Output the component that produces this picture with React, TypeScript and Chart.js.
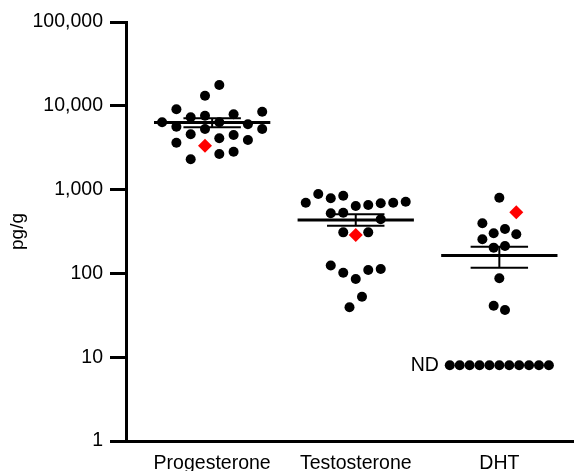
import React, { useEffect, useRef } from "react";
import { Chart, registerables } from "chart.js";

Chart.register(...registerables);

// ---- data ----
const categories = ["Progesterone", "Testosterone", "DHT"];
const yTickValues = [1, 10, 100, 1000, 10000, 100000];

const progesteroneValues = [17700, 13200, 9080, 8500, 7920, 7290, 7620, 6360, 6360, 6010, 5630, 5290, 5290, 4570, 4490, 4090, 3630, 3910, 2660, 2830, 2300];
const progesteroneSlots = [0.5, -0.5, -2.5, 3.5, 1.5, -1.5, -0.5, -3.5, 0.5, 2.5, -2.5, -0.5, 3.5, -1.5, 1.5, 0.5, -2.5, 2.5, 0.5, 1.5, -1.5];

const testosteroneValues = [698, 887, 787, 846, 637, 655, 687, 698, 717, 521, 530, 442, 309, 309, 124, 102, 85.7, 110, 113, 52.7, 39.4];
const testosteroneSlots = [-4, -3, -2, -1, 0, 1, 2, 3, 4, -2, -1, 2, -1, 1, -2, -1, 0, 1, 2, 0.5, -0.5];

const dhtValues = [800, 396, 301, 339, 293, 255, 203, 212, 87.4, 41.2, 36.6];
const dhtSlots = [0, -1.5, -0.5, 0.5, 1.5, -1.5, -0.5, 0.5, 0, -0.5, 0.5];

const dhtNDValues = [8, 8, 8, 8, 8, 8, 8, 8, 8, 8, 8];
const dhtNDSlots = [-5, -4, -3, -2, -1, 0, 1, 2, 3, 4, 5];
const ndLabel = "ND";

const highlightValues = [3340, 287, 536];
const highlightSlots = [-0.5, 0, 1.5];

const means = [6330, 434, 163];
const semUpper = [7100, 507, 208];
const semLower = [5540, 371, 117];

// ---- styles ----
const FONT = "'Liberation Sans', Arial, Helvetica, sans-serif";
const slotWidths = [0.0996, 0.087, 0.0787];
const ndSlotWidth = 0.069;
const meanHalf = 0.405;
const capHalf = 0.2;

const groupValues = [progesteroneValues, testosteroneValues, dhtValues];
const groupSlots = [progesteroneSlots, testosteroneSlots, dhtSlots];

function lineDs(points: { x: number; y: number }[], width: number) {
  return {
    data: points,
    showLine: true,
    borderColor: "#000",
    borderWidth: width,
    pointRadius: 0,
    fill: false,
    clip: false as any,
  };
}

export default function App() {
  const ref = useRef<HTMLCanvasElement | null>(null);

  useEffect(() => {
    document.body.style.margin = "0";
    const canvas = ref.current;
    if (!canvas) return;

    const datasets: any[] = [];

    // red highlighted points (on top)
    datasets.push({
      data: highlightValues.map((v, i) => ({ x: i + highlightSlots[i] * slotWidths[i], y: v })),
      pointStyle: "rectRot",
      pointRadius: 7,
      pointBackgroundColor: "#ff0000",
      pointBorderWidth: 0,
      showLine: false,
    });

    groupValues.forEach((vals, i) => {
      datasets.push({
        data: vals.map((v, j) => ({ x: i + groupSlots[i][j] * slotWidths[i], y: v })),
        pointRadius: 5,
        pointBackgroundColor: "#000",
        pointBorderWidth: 0,
        showLine: false,
      });
    });

    datasets.push({
      data: dhtNDValues.map((v, j) => ({ x: 2 + dhtNDSlots[j] * ndSlotWidth, y: v })),
      pointRadius: 5,
      pointBackgroundColor: "#000",
      pointBorderWidth: 0,
      showLine: false,
    });

    means.forEach((m, i) => {
      datasets.push(lineDs([{ x: i - meanHalf, y: m }, { x: i + meanHalf, y: m }], 3));
      datasets.push(lineDs([{ x: i - capHalf, y: semUpper[i] }, { x: i + capHalf, y: semUpper[i] }], 2));
      datasets.push(lineDs([{ x: i - capHalf, y: semLower[i] }, { x: i + capHalf, y: semLower[i] }], 2));
      datasets.push(lineDs([{ x: i, y: semLower[i] }, { x: i, y: semUpper[i] }], 2));
    });

    const ndPlugin = {
      id: "ndLabel",
      afterDatasetsDraw(chart: any) {
        const xs = chart.scales.x;
        const ys = chart.scales.y;
        const ctx = chart.ctx;
        const firstX = xs.getPixelForValue(2 + dhtNDSlots[0] * ndSlotWidth);
        const y = ys.getPixelForValue(dhtNDValues[0]);
        ctx.save();
        ctx.fillStyle = "#000";
        ctx.font = `19.5px ${FONT}`;
        ctx.textAlign = "right";
        ctx.textBaseline = "middle";
        ctx.fillText(ndLabel, firstX - 11, y);
        ctx.restore();
      },
    };

    const chart = new Chart(canvas, {
      type: "scatter",
      data: { datasets },
      plugins: [ndPlugin],
      options: {
        responsive: false,
        animation: false,
        devicePixelRatio: 1,
        layout: { autoPadding: false, padding: { top: 22, right: 0, left: 0, bottom: 0 } },
        plugins: { legend: { display: false }, tooltip: { enabled: false } },
        scales: {
          x: {
            type: "linear",
            min: -0.6,
            max: 2.52,
            afterBuildTicks: (scale: any) => {
              scale.ticks = categories.map((_, i) => ({ value: i }));
            },
            afterFit: (scale: any) => {
              scale.height = 30;
              scale.paddingLeft = 0;
              scale.paddingRight = 0;
            },
            ticks: {
              autoSkip: false,
              maxRotation: 0,
              padding: 11,
              color: "#000",
              font: { family: FONT, size: 19.5 },
              callback: (v: any) => categories[v as number] ?? "",
            },
            grid: { display: false, drawTicks: false },
            border: { display: true, color: "#000", width: 3 },
          },
          y: {
            type: "logarithmic",
            min: 1,
            max: 100000,
            afterBuildTicks: (scale: any) => {
              scale.ticks = yTickValues.map((v) => ({ value: v }));
            },
            afterFit: (scale: any) => {
              scale.width = 126;
            },
            ticks: {
              padding: 7,
              color: "#000",
              font: { family: FONT, size: 19.5 },
              callback: (v: any) => Number(v).toLocaleString("en-US"),
            },
            grid: {
              drawOnChartArea: false,
              drawTicks: true,
              tickLength: 16,
              tickWidth: 3,
              tickColor: "#000",
            },
            border: { display: true, color: "#000", width: 3 },
            title: {
              display: true,
              text: "pg/g",
              color: "#000",
              font: { family: FONT, size: 19 },
              padding: { top: 6, bottom: 0 },
            },
          },
        },
      },
    });

    return () => chart.destroy();
  }, []);

  return (
    <div style={{ width: 574, height: 471 }}>
      <canvas ref={ref} width={574} height={471} style={{ display: "block" }} />
    </div>
  );
}
